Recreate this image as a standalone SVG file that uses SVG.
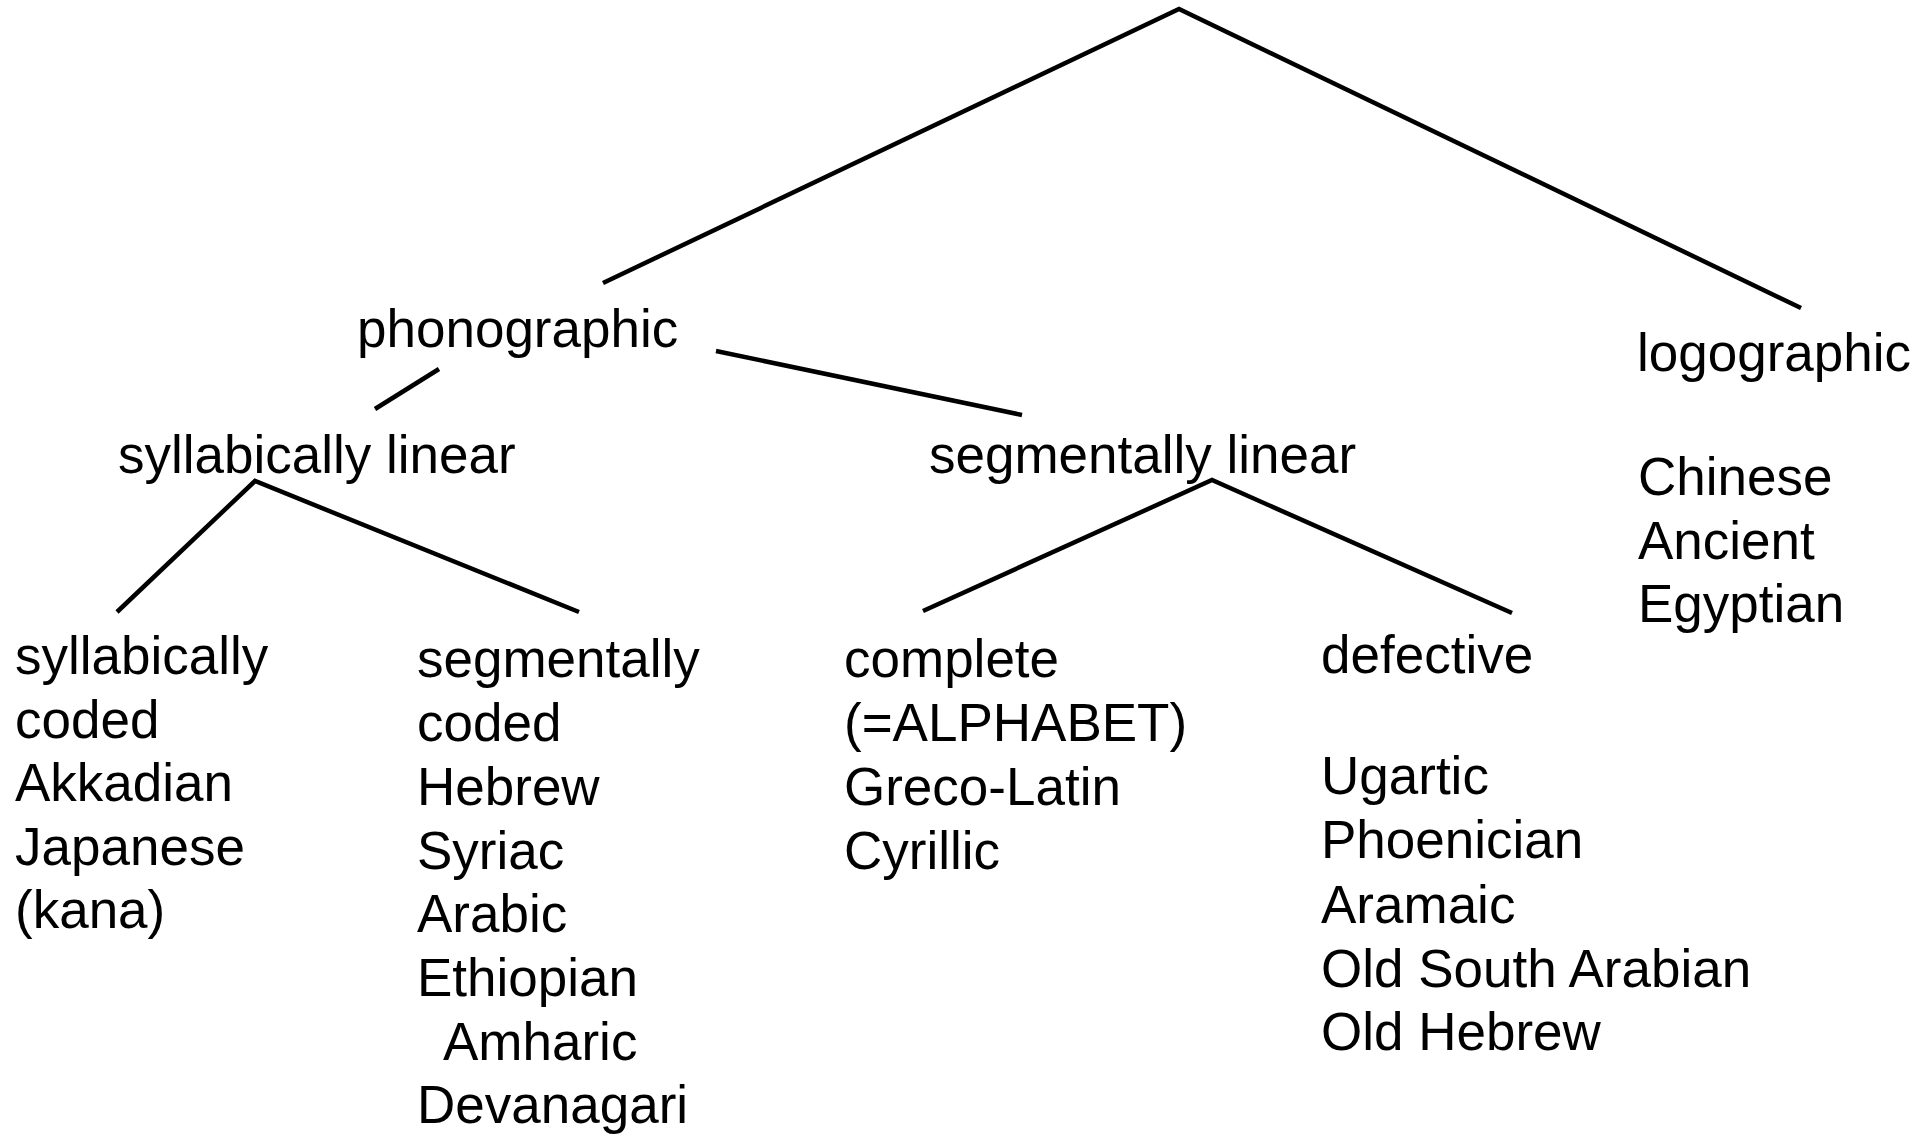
<svg xmlns="http://www.w3.org/2000/svg" width="1930" height="1134" viewBox="0 0 1930 1134">
  <style>
    .t { font-family: "Liberation Sans", Arial, sans-serif; font-size: 53px; fill: #000; }
    .e { stroke: #000; stroke-width: 4.5; fill: none; stroke-linecap: butt; }
  </style>
  <rect width="1930" height="1134" fill="#fff"/>

  <!-- tree edges -->
  <g id="connectors">
    <polyline class="e" points="603,283 1179,9 1801,308"/>
    <line class="e" x1="439" y1="369" x2="375" y2="409"/>
    <line class="e" x1="716" y1="351" x2="1022" y2="415"/>
    <polyline class="e" points="117,612 255,481 579,612"/>
    <polyline class="e" points="923,611 1212,480 1512,613"/>
  </g>

  <g id="phonographic"><text class="t" x="357" y="347">phonographic</text></g>
  <g id="logographic">
    <text class="t" x="1637" y="371">logographic</text>
    <text class="t" x="1638" y="495">Chinese</text>
    <text class="t" x="1638" y="559">Ancient</text>
    <text class="t" x="1638" y="622">Egyptian</text>
  </g>
  <g id="syllabically-linear"><text class="t" x="118" y="473">syllabically linear</text></g>
  <g id="segmentally-linear"><text class="t" x="929" y="473">segmentally linear</text></g>

  <g id="syllabically-coded">
    <text class="t" x="15" y="674">syllabically</text>
    <text class="t" x="15" y="738">coded</text>
    <text class="t" x="15" y="801">Akkadian</text>
    <text class="t" x="15" y="865">Japanese</text>
    <text class="t" x="15" y="928">(kana)</text>
  </g>

  <g id="segmentally-coded">
    <text class="t" x="417" y="677">segmentally</text>
    <text class="t" x="417" y="741">coded</text>
    <text class="t" x="417" y="805">Hebrew</text>
    <text class="t" x="417" y="869">Syriac</text>
    <text class="t" x="417" y="932">Arabic</text>
    <text class="t" x="417" y="996">Ethiopian</text>
    <text class="t" x="443" y="1060">Amharic</text>
    <text class="t" x="417" y="1123">Devanagari</text>
  </g>

  <g id="complete">
    <text class="t" x="844" y="677">complete</text>
    <text class="t" x="844" y="741">(=ALPHABET)</text>
    <text class="t" x="844" y="805">Greco-Latin</text>
    <text class="t" x="844" y="869">Cyrillic</text>
  </g>

  <g id="defective">
    <text class="t" x="1321" y="673">defective</text>
    <text class="t" x="1321" y="794">Ugartic</text>
    <text class="t" x="1321" y="858">Phoenician</text>
    <text class="t" x="1321" y="923">Aramaic</text>
    <text class="t" x="1321" y="987">Old South Arabian</text>
    <text class="t" x="1321" y="1050">Old Hebrew</text>
  </g>
</svg>
